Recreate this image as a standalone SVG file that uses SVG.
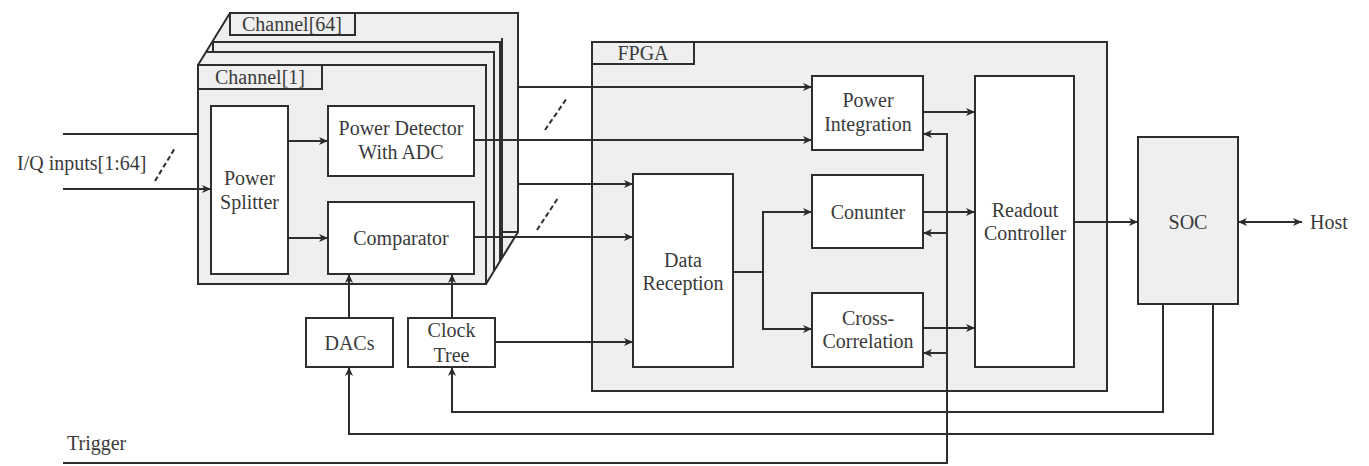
<svg xmlns="http://www.w3.org/2000/svg" width="1369" height="466" viewBox="0 0 1369 466">
<defs>
<marker id="ah" markerUnits="userSpaceOnUse" markerWidth="10" markerHeight="10" refX="9" refY="4" orient="auto-start-reverse" viewBox="0 0 10 8">
<path d="M0,0 L9,4 L0,8 L2.5,4 z" fill="#2a2a2a"/>
</marker>
<style>
.bx{fill:#ffffff;stroke:#2e2e2e;stroke-width:2}
.gy{fill:#efefef;stroke:#2e2e2e;stroke-width:2}
.ln{fill:none;stroke:#2e2e2e;stroke-width:2}
.ar{fill:none;stroke:#2e2e2e;stroke-width:2;marker-end:url(#ah)}
.da{fill:none;stroke:#2e2e2e;stroke-width:2;stroke-dasharray:5,3}
text{font-family:"Liberation Serif","DejaVu Serif",serif;font-size:20px;fill:#3a3a3a;text-anchor:middle;dominant-baseline:central}
.l{text-anchor:start}
</style>
</defs>
<rect width="1369" height="466" fill="#ffffff"/>

<g id="channel-stack">
<polygon class="gy" points="198,65 230,13 518,13 518,232 486,284 198,284"/>
<polyline class="ln" points="213,42 500,42 500,261"/>
<polyline class="ln" points="207,52 494,52 494,271"/>
<line class="ln" x1="213" y1="42" x2="213" y2="52"/>
<line class="ln" x1="502" y1="38" x2="502" y2="258"/>
<line class="ln" x1="502" y1="232" x2="518" y2="232"/>
<rect class="gy" x="230" y="13" width="125" height="22"/>
<text x="292" y="24">Channel[64]</text>
</g>

<g id="channel1">
<rect class="gy" x="198" y="65" width="288" height="219"/>
<rect class="gy" x="198" y="65" width="124" height="24"/>
<text x="260" y="77">Channel[1]</text>
</g>

<g id="power-splitter">
<rect class="bx" x="211" y="106" width="77" height="168"/>
<text x="249.5" y="178">Power</text>
<text x="249.5" y="202">Splitter</text>
</g>

<g id="power-detector">
<rect class="bx" x="328" y="106" width="146" height="70"/>
<text x="401" y="128">Power Detector</text>
<text x="401" y="152">With ADC</text>
</g>

<g id="comparator">
<rect class="bx" x="328" y="202" width="146" height="72"/>
<text x="401" y="238">Comparator</text>
</g>

<g id="dacs">
<rect class="bx" x="306" y="318" width="87" height="49"/>
<text x="349.5" y="343">DACs</text>
</g>

<g id="clock-tree">
<rect class="bx" x="408" y="318" width="87" height="49"/>
<text x="451.5" y="330">Clock</text>
<text x="451.5" y="355">Tree</text>
</g>

<g id="fpga">
<rect class="gy" x="592" y="42" width="515" height="349"/>
<rect class="gy" x="592" y="42" width="102" height="22"/>
<text x="643" y="53">FPGA</text>
</g>

<g id="power-integration">
<rect class="bx" x="812" y="76" width="111" height="74"/>
<text x="868" y="100">Power</text>
<text x="868" y="124">Integration</text>
</g>

<g id="data-reception">
<rect class="bx" x="633" y="174" width="100" height="193"/>
<text x="683" y="260">Data</text>
<text x="683" y="283">Reception</text>
</g>

<g id="counter">
<rect class="bx" x="812" y="175" width="111" height="73"/>
<text x="868" y="212">Conunter</text>
</g>

<g id="cross-correlation">
<rect class="bx" x="812" y="293" width="111" height="74"/>
<text x="868" y="318">Cross-</text>
<text x="868" y="341">Correlation</text>
</g>

<g id="readout-controller">
<rect class="bx" x="975" y="76" width="99" height="291"/>
<text x="1025" y="210">Readout</text>
<text x="1025" y="233">Controller</text>
</g>

<g id="soc">
<rect class="gy" x="1138" y="137" width="100" height="167"/>
<text x="1188" y="222">SOC</text>
</g>

<g id="labels">
<text class="l" x="17" y="163">I/Q inputs[1:64]</text>
<text class="l" x="1310" y="222">Host</text>
<text class="l" x="67" y="443">Trigger</text>
</g>

<g id="connectors">
<line class="ln" x1="63" y1="134" x2="198" y2="134"/>
<line class="ar" x1="63" y1="189" x2="211" y2="189"/>
<line class="da" x1="155" y1="181" x2="175" y2="148"/>
<line class="ar" x1="288" y1="141" x2="328" y2="141"/>
<line class="ar" x1="288" y1="238" x2="328" y2="238"/>
<line class="ar" x1="518" y1="87" x2="812" y2="87"/>
<line class="ar" x1="474" y1="140" x2="812" y2="140"/>
<line class="da" x1="545" y1="130" x2="567" y2="98"/>
<line class="ar" x1="518" y1="184" x2="633" y2="184"/>
<line class="ar" x1="474" y1="237" x2="633" y2="237"/>
<line class="da" x1="537" y1="230" x2="558" y2="198"/>
<line class="ar" x1="495" y1="342" x2="633" y2="342"/>
<line class="ar" x1="349" y1="318" x2="349" y2="274"/>
<line class="ar" x1="452" y1="318" x2="452" y2="274"/>
<polyline class="ln" points="733,272 763,272"/>
<line class="ln" x1="763" y1="211" x2="763" y2="330"/>
<line class="ar" x1="762" y1="212" x2="812" y2="212"/>
<line class="ar" x1="762" y1="329" x2="812" y2="329"/>
<line class="ar" x1="923" y1="112" x2="975" y2="112"/>
<line class="ar" x1="923" y1="212" x2="975" y2="212"/>
<line class="ar" x1="923" y1="328" x2="975" y2="328"/>
<polyline class="ln" points="63,463 947,463 947,133"/>
<line class="ar" x1="948" y1="134" x2="923" y2="134"/>
<line class="ar" x1="948" y1="233" x2="923" y2="233"/>
<line class="ar" x1="948" y1="353" x2="923" y2="353"/>
<line class="ar" x1="1074" y1="222" x2="1138" y2="222"/>
<line class="ar" x1="1238" y1="222" x2="1302" y2="222" style="marker-start:url(#ah)"/>
<polyline class="ar" points="1163,304 1163,412 452,412 452,367"/>
<polyline class="ar" points="1213,304 1213,434 349,434 349,367"/>
</g>
</svg>
